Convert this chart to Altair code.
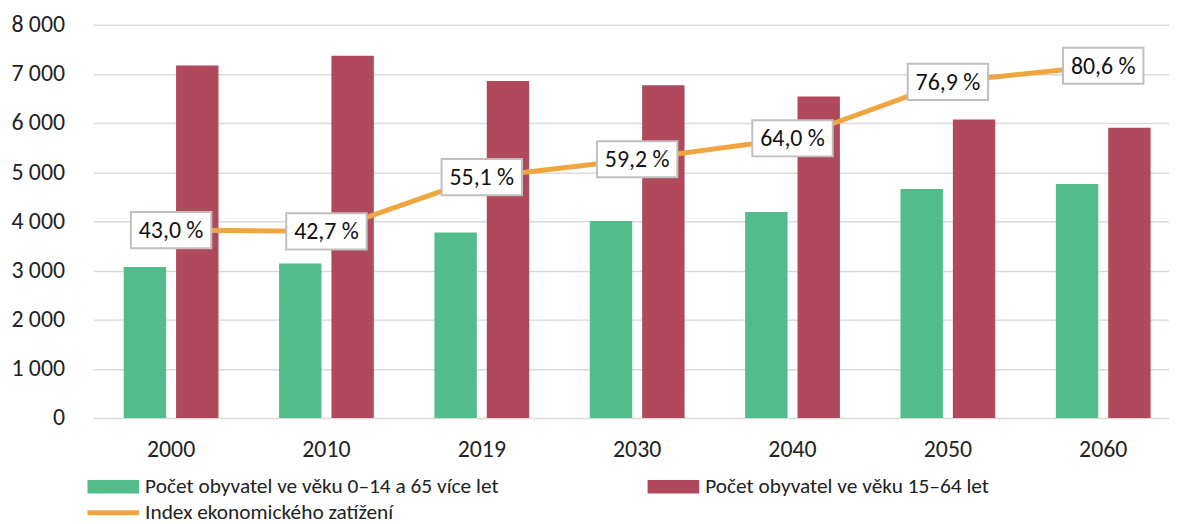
import altair as alt
import pandas as pd

years = ["2000", "2010", "2019", "2030", "2040", "2050", "2060"]
dependent = [3070, 3140, 3770, 4006, 4187, 4657, 4758]
working = [7170, 7370, 6855, 6768, 6540, 6069, 5901]
index_pct = [43.0, 42.7, 55.1, 59.2, 64.0, 76.9, 80.6]

s_dep = "Počet obyvatel ve věku 0–14 a 65 více let"
s_work = "Počet obyvatel ve věku 15–64 let"
s_idx = "Index ekonomického zatížení"
bar_colors = ["#52BD8B", "#B0495C"]
line_color = "#F0A640"

FONT = "Carlito, Lato, sans-serif"

bars_df = pd.DataFrame(
    [{"year": y, "serie": s_dep, "value": v} for y, v in zip(years, dependent)]
    + [{"year": y, "serie": s_work, "value": v} for y, v in zip(years, working)]
)
line_df = pd.DataFrame({"year": years, "idx": index_pct, "serie": [s_idx] * len(years)})

x_enc = alt.X(
    "year:N",
    sort=years,
    scale=alt.Scale(range=[0, 1095], paddingInner=0.39, paddingOuter=0.195),
    axis=alt.Axis(
        title=None, labelAngle=0, ticks=False, domain=False, labelPadding=20,
        labelFont=FONT, labelFontSize=24, labelColor="#222222",
    ),
)

bar_legend = alt.Legend(
    title=None,
    orient="none",
    legendX=7,
    legendY=452,
    columns=2,
    columnPadding=149,
    padding=0,
    symbolSize=676,
    symbolType="M-2,-0.52H2V0.52H-2Z",
    symbolStrokeWidth=0,
    symbolOpacity=1,
    labelOffset=19,
    labelFont=FONT,
    labelFontSize=21.5,
    labelColor="#222222",
    labelLimit=700,
)

line_legend = alt.Legend(
    title=None,
    orient="none",
    legendX=4.5,
    legendY=476,
    padding=0,
    symbolSize=676,
    symbolType="M-2,0H2",
    symbolStrokeWidth=5,
    labelOffset=16.5,
    labelFont=FONT,
    labelFontSize=21.5,
    labelColor="#222222",
    labelLimit=700,
)

bars = alt.Chart(bars_df).mark_bar().encode(
    x=x_enc,
    xOffset=alt.XOffset("serie:N", sort=[s_dep, s_work], scale=alt.Scale(paddingInner=0.19)),
    y=alt.Y(
        "value:Q",
        scale=alt.Scale(domain=[0, 8000], nice=False),
        axis=alt.Axis(
            title=None, values=[0, 1000, 2000, 3000, 4000, 5000, 6000, 7000, 8000],
            ticks=False, domain=False, labelPadding=29,
            labelExpr="replace(format(datum.value, ','), ',', ' ')",
            labelFont=FONT, labelFontSize=24, labelColor="#222222",
            gridColor="#D9D9D9", gridWidth=1.5,
        ),
    ),
    color=alt.Color(
        "serie:N",
        scale=alt.Scale(domain=[s_dep, s_work], range=bar_colors),
        legend=bar_legend,
    ),
)

y2 = alt.Y("idx:Q", scale=alt.Scale(domain=[0, 90], nice=False), axis=None)

line = alt.Chart(line_df).mark_line(strokeWidth=5, strokeCap="round", strokeJoin="round").encode(
    x=alt.X("year:N", sort=years),
    y=y2,
    stroke=alt.Stroke(
        "serie:N",
        scale=alt.Scale(domain=[s_idx], range=[line_color]),
        legend=line_legend,
    ),
)

boxes = alt.Chart(line_df).mark_point(
    shape="M-2,-0.9H2V0.9H-2Z", size=1640, filled=True, fill="white",
    stroke="#BFBFBF", strokeWidth=2, opacity=1, fillOpacity=1,
).encode(x=alt.X("year:N", sort=years), y=y2)

texts = alt.Chart(line_df).transform_calculate(
    lab="replace(format(datum.idx, '.1f'), '.', ',') + ' %'"
).mark_text(font=FONT, fontSize=24, color="#111111", baseline="middle", align="center", dy=1).encode(
    x=alt.X("year:N", sort=years), y=y2, text="lab:N"
)

right = alt.layer(line, boxes, texts)

chart = alt.layer(bars, right).resolve_scale(y="independent").properties(
    width=1083,
    height=396,
    background="white",
    autosize=alt.AutoSizeParams(type="none"),
    padding={"left": 86, "top": 15, "right": 0, "bottom": 105},
).configure_view(stroke=None)

chart.save("out.html", embed_options={"renderer": "svg", "actions": False})
